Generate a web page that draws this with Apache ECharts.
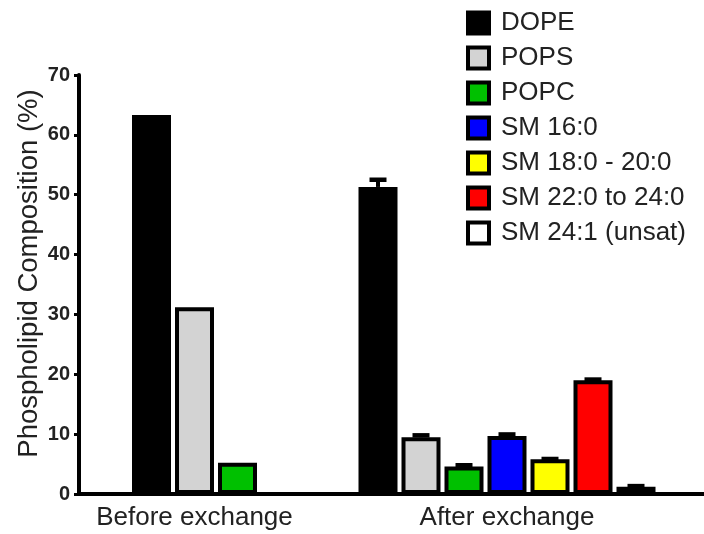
<!DOCTYPE html>
<html>
<head>
<meta charset="utf-8">
<script src="https://cdn.jsdelivr.net/npm/echarts@6/dist/echarts.min.js"></script>
<style>
  html, body { margin: 0; padding: 0; background: #fff; }
  #chart { width: 704px; height: 534px; }
</style>
</head>
<body>
<div id="chart"></div>
<script>
// Phospholipid composition before and after lipid exchange
const groups = ['Before exchange', 'After exchange'];
const lipids = ['DOPE', 'POPS', 'POPC', 'SM 16:0', 'SM 18:0 - 20:0', 'SM 22:0 to 24:0', 'SM 24:1 (unsat)'];
const beforeLipids = ['DOPE', 'POPS', 'POPC'];
const beforeMeans = [63.3, 31.2, 5.2];
const afterMeans = [51.3, 9.5, 4.6, 9.7, 5.8, 19.0, 1.2];
const afterErrors = [1.2, 0.3, 0.2, 0.25, 0.05, 0.12, 0.12];
const yMin = 0, yMax = 70, yStep = 10;

// styling
const fillColors = ['#000000', '#d3d3d3', '#00c000', '#0000ff', '#ffff00', '#ff0000', '#ffffff'];
const FONT = '"Liberation Sans", Arial, Helvetica, sans-serif';
const TEXT = '#222';
const BAR_W = 39;
const BAR_GAP = 4;                 // space between neighbouring bars
const BAR_STEP = BAR_W + BAR_GAP;  // centre-to-centre distance inside a group

function barStyle(i) {
  return { color: fillColors[i], borderColor: '#000', borderWidth: 4 };
}

const series = [];
beforeLipids.forEach((name, i) => {
  series.push({
    name, type: 'bar', xAxisIndex: 0, yAxisIndex: 0,
    barWidth: BAR_W, barGap: (BAR_GAP / BAR_W * 100) + '%',
    itemStyle: barStyle(i), z: 2,
    data: [beforeMeans[i]]
  });
});
lipids.forEach((name, i) => {
  series.push({
    name, type: 'bar', xAxisIndex: 1, yAxisIndex: 1,
    barWidth: BAR_W, barGap: (BAR_GAP / BAR_W * 100) + '%',
    itemStyle: barStyle(i), z: 2,
    data: [afterMeans[i]]
  });
});

// SEM whiskers for the "after" group, drawn behind the bars
series.push({
  type: 'custom', xAxisIndex: 1, yAxisIndex: 1, z: 1, silent: true,
  data: afterMeans.map((m, i) => [0, m, m + afterErrors[i], i]),
  encode: { x: 0, y: [1, 2] },
  renderItem(params, api) {
    const idx = api.value(3);
    const base = api.coord([0, api.value(1)]);
    const top = api.coord([0, api.value(2)]);
    const x = base[0] + (idx - (lipids.length - 1) / 2) * BAR_STEP;
    return {
      type: 'group',
      children: [
        { type: 'line', shape: { x1: x, y1: base[1], x2: x, y2: top[1] },
          style: { stroke: '#000', lineWidth: 4 } },
        { type: 'line', shape: { x1: x - 8.5, y1: top[1], x2: x + 8.5, y2: top[1] },
          style: { stroke: '#000', lineWidth: 4.5 } }
      ]
    };
  }
});

const xAxisCommon = {
  type: 'category',
  axisLine: { lineStyle: { color: '#000', width: 4 } },
  axisTick: { show: false },
  axisLabel: { fontSize: 26, color: TEXT, fontFamily: FONT, margin: 11 }
};

const option = {
  animation: false,
  textStyle: { fontFamily: FONT },
  legend: {
    orient: 'vertical', left: 461, top: 5,
    icon: 'rect', itemWidth: 21, itemHeight: 21, itemGap: 9,
    selectedMode: false,
    data: lipids,
    itemStyle: { borderColor: '#000', borderWidth: 4 },
    textStyle: { fontSize: 26, color: TEXT, fontFamily: FONT, padding: [0, 0, 0, 7] }
  },
  grid: [
    { left: 79, top: 75, bottom: 40, width: 231 },
    { left: 310, top: 75, bottom: 40, right: -8 }
  ],
  xAxis: [
    Object.assign({ gridIndex: 0, data: [groups[0]] }, xAxisCommon),
    Object.assign({ gridIndex: 1, data: [groups[1]] }, xAxisCommon)
  ],
  yAxis: [
    {
      gridIndex: 0, type: 'value', min: yMin, max: yMax, interval: yStep,
      name: 'Phospholipid Composition (%)', nameLocation: 'middle', nameGap: 35,
      nameTextStyle: { fontSize: 27.5, color: TEXT, fontFamily: FONT, padding: [0, 0, 0, 22] },
      axisLine: { show: true, lineStyle: { color: '#000', width: 4 } },
      axisTick: { show: true, length: 5, lineStyle: { color: '#000', width: 3 } },
      axisLabel: { fontSize: 20, fontWeight: 'bold', color: TEXT, fontFamily: FONT, margin: 9 },
      splitLine: { show: false }
    },
    { gridIndex: 1, type: 'value', min: yMin, max: yMax, interval: yStep, show: false }
  ],
  series
};

const chart = echarts.init(document.getElementById('chart'), null, { renderer: 'canvas' });
chart.setOption(option);
</script>
</body>
</html>
